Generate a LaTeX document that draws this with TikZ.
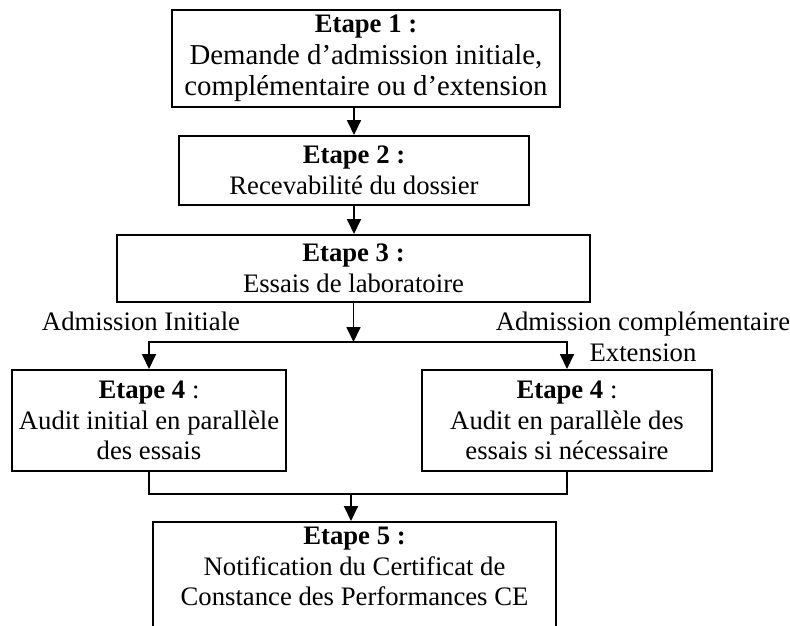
\documentclass[tikz,border=0pt]{standalone}
\usepackage{fontspec}
\setmainfont{Liberation Serif}
\usepackage{tikz}
\usetikzlibrary{arrows.meta,calc,positioning}
\newcommand{\etapefont}{\fontsize{26.7pt}{30.7pt}\selectfont}
\newcommand{\demandefont}{\fontsize{28.8pt}{31.5pt}\selectfont}
\tikzset{etape/.style={draw,rectangle,line width=2pt,align=center,inner sep=0pt,font=\etapefont}}
\tikzstyle{lbl}=[inner sep=0pt,font=\etapefont,align=center]

\begin{document}
\begin{tikzpicture}[x=1pt,y=-1pt,>={Triangle[width=14pt,length=15pt]},line width=1.8pt]
\useasboundingbox (0,0) rectangle (790,626);
\clip (0,0) rectangle (790,626);
\node[etape,line width=1.2pt,minimum width=388pt,minimum height=97pt,font=\demandefont] (E1) at (366,58.5){{\etapefont\textbf{Etape 1 :}}\\Demande d’admission initiale,\\complémentaire ou d’extension};
\node[etape,minimum width=350pt,minimum height=69pt] (E2) at (354,170.5){\textbf{Etape 2 :}\\Recevabilité du dossier};
\node[etape,minimum width=473pt,minimum height=67pt] (E3) at (353.5,268.5){\textbf{Etape 3 :}\\Essais de laboratoire};
\node[etape,minimum width=274pt,minimum height=101pt] (E4a) at (149,420.5){\textbf{Etape 4} :\\Audit initial en parallèle\\des essais};
\node[etape,minimum width=290pt,minimum height=101pt] (E4b) at (567,420.5){\textbf{Etape 4} :\\Audit en parallèle des\\essais si nécessaire};
\node[etape,minimum width=403pt,inner ysep=5pt,text depth=45pt,anchor=north] (E5) at (354.5,521){\textbf{Etape 5 :}\\Notification du Certificat de\\Constance des Performances CE};

\node[lbl,anchor=north] (L1) at (141,311){Admission Initiale};
\node[lbl,anchor=north] (L2) at (643,311){Admission complémentaire\\Extension};

\coordinate (split) at (353.5,342);
\coordinate (merge) at (351,494);

\draw[->] (E1.south -| E2.north) -- (E2.north);
\draw[->] (E2.south) -- (E2.south |- E3.north);
\draw[->] (E3.south) -- (split);
\draw[->] (split) -| (E4a.north);
\draw[->] (split) -| (E4b.north);
\draw (E4a.south) |- (merge) -| (E4b.south);
\draw[->] (merge) -- (merge |- E5.north);
\end{tikzpicture}
\end{document}
